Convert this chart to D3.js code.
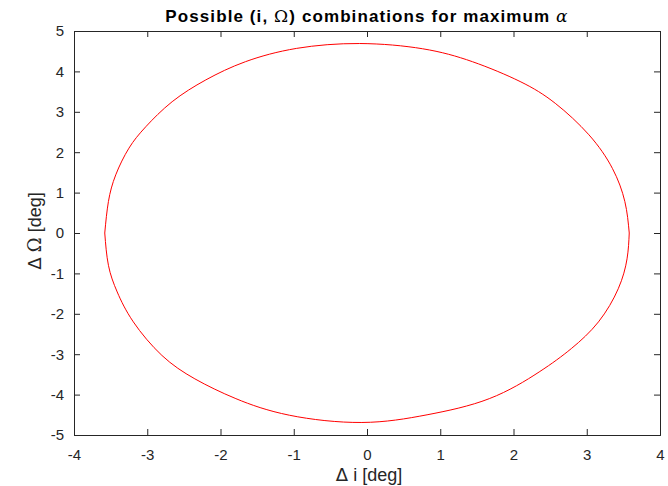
<!DOCTYPE html>
<html>
<head>
<meta charset="utf-8">
<script src="https://cdn.jsdelivr.net/npm/d3@7"></script>
<style>
  body { margin: 0; background: #fff; }
  svg { display: block; font-family: Arial, "Liberation Sans", sans-serif; }
</style>
</head>
<body>
<div id="container"></div>
<script>
const WIDTH = 668;
const HEIGHT = 486;
const MARGIN = {top: 31, right: 8, bottom: 51, left: 74};

const INNER_WIDTH = WIDTH - MARGIN.left - MARGIN.right;
const INNER_HEIGHT = HEIGHT - MARGIN.top - MARGIN.bottom;

// upper half of the curve, left to right
var upperI     = [-3.58, -3.53, -3.43, -3.25, -3.02, -2.66, -2.20, -1.66, -0.96, -0.10, 0.76, 1.44, 2.09, 2.57, 3.03, 3.35, 3.52, 3.58];
var upperOmega = [0, 0.78, 1.44, 2.10, 2.63, 3.25, 3.79, 4.24, 4.57, 4.69, 4.56, 4.24, 3.75, 3.21, 2.43, 1.60, 0.78, 0];

// lower half of the curve, left to right
var lowerI     = [-3.58, -3.53, -3.41, -3.19, -2.80, -2.35, -1.79, -1.06, -0.07, 0.82, 1.67, 2.35, 2.79, 3.16, 3.43, 3.55, 3.58];
var lowerOmega = [0, -0.80, -1.46, -2.20, -3.03, -3.61, -4.10, -4.51, -4.69, -4.50, -4.10, -3.44, -2.86, -2.20, -1.38, -0.64, 0];

var xTicks = [-4, -3, -2, -1, 0, 1, 2, 3, 4];
var yTicks = [-5, -4, -3, -2, -1, 0, 1, 2, 3, 4, 5];

var AXIS_COLOR = "#262626";
var TICK_LEN = 6;

var translate = function (x, y) {
    return "translate(" + x + "," + y + ")";
};

var createChart = function () {
    var svg = d3.select("#container")
        .append("svg")
        .attr("width", WIDTH)
        .attr("height", HEIGHT);

    var xScale = d3.scaleLinear().domain([-4, 4]).range([0, INNER_WIDTH]);
    var yScale = d3.scaleLinear().domain([-5, 5]).range([INNER_HEIGHT, 0]);

    var g = svg.append("g").attr("transform", translate(MARGIN.left, MARGIN.top));

    var plain = function (d) { return String(d); }; // matlab uses a plain hyphen

    // bottom / left axes with labels, ticks pointing inward
    var xAxis = d3.axisBottom(xScale).tickValues(xTicks).tickSize(-TICK_LEN).tickPadding(14).tickFormat(plain);
    var yAxis = d3.axisLeft(yScale).tickValues(yTicks).tickSize(-TICK_LEN).tickPadding(10).tickFormat(plain);

    var gx = g.append("g").attr("transform", translate(0, INNER_HEIGHT)).call(xAxis);
    var gy = g.append("g").call(yAxis);

    // top and right sides of the box, ticks only
    var gxTop = g.append("g").call(d3.axisTop(xScale).tickValues(xTicks).tickSize(-TICK_LEN).tickFormat(""));
    var gyRight = g.append("g").attr("transform", translate(INNER_WIDTH, 0))
        .call(d3.axisRight(yScale).tickValues(yTicks).tickSize(-TICK_LEN).tickFormat(""));

    [gx, gy, gxTop, gyRight].forEach(function (a) {
        a.select(".domain").attr("stroke", AXIS_COLOR).attr("stroke-width", 1);
        a.selectAll(".tick line").attr("stroke", AXIS_COLOR);
        a.selectAll(".tick text")
            .attr("fill", AXIS_COLOR)
            .style("font-size", "15px")
            .style("font-family", "Arial, 'Liberation Sans', sans-serif");
    });

    var line = d3.line()
        .x(function (d) { return xScale(d[0]); })
        .y(function (d) { return yScale(d[1]); })
        .curve(d3.curveNatural);

    var upper = upperI.map(function (v, i) { return [v, upperOmega[i]]; });
    var lower = lowerI.map(function (v, i) { return [v, lowerOmega[i]]; });

    [upper, lower].forEach(function (pts) {
        g.append("path")
            .attr("d", line(pts))
            .attr("stroke", "#ff0000")
            .attr("stroke-width", 1)
            .attr("fill", "none");
    });

    // title
    var title = svg.append("text")
        .attr("x", 367)
        .attr("y", 22)
        .attr("text-anchor", "middle")
        .attr("fill", "#000")
        .style("font-size", "17px")
        .style("letter-spacing", "1.1px")
        .style("font-weight", "bold");
    title.append("tspan").text("Possible (i, ");
    title.append("tspan").style("font-family", "'DejaVu Serif', 'Liberation Serif', serif").style("font-weight", "normal").text("Ω");
    title.append("tspan").text(") combinations for maximum ");
    title.append("tspan").style("font-family", "'DejaVu Serif', 'Liberation Serif', serif").style("font-style", "italic").style("font-weight", "normal").text("α");

    // x label
    var xl = svg.append("text")
        .attr("x", 369)
        .attr("y", 481)
        .attr("text-anchor", "middle")
        .attr("fill", AXIS_COLOR)
        .style("font-size", "18px");
    xl.append("tspan").style("font-family", "'DejaVu Sans', sans-serif").text("Δ");
    xl.append("tspan").text(" i [deg]");

    // y label
    var yl = svg.append("text")
        .attr("transform", translate(41, 231) + " rotate(-90)")
        .attr("text-anchor", "middle")
        .attr("fill", AXIS_COLOR)
        .style("font-size", "18px");
    yl.append("tspan").style("font-family", "'DejaVu Sans', sans-serif").text("Δ");
    yl.append("tspan").text(" ");
    yl.append("tspan").style("font-family", "'DejaVu Serif', serif").text("Ω");
    yl.append("tspan").text(" [deg]");
};

window.onload = createChart;
</script>
</body>
</html>
